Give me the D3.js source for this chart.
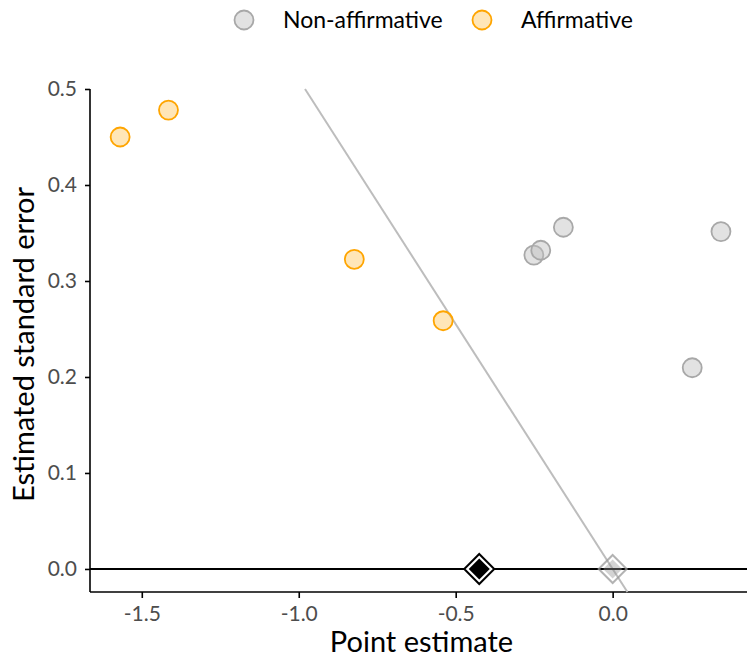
<!DOCTYPE html>
<html lang="en">
<head>
<meta charset="UTF-8">
<title>Point estimate vs standard error</title>
<script src="https://d3js.org/d3.v7.min.js"></script>
<style>
  body { margin: 0; background: #fff; font-family: 'Lato', sans-serif; }
  .tick text { fill: #4d4d4d; font-size: 21px; font-family: 'Lato', sans-serif; }
  .axis path, .axis line { stroke: #000; stroke-width: 1.6; }
</style>
</head>
<body>
<script>
// study estimates and standard errors
const nonAffX = [-0.251, -0.229, -0.157, 0.345, 0.2535];
const nonAffY = [0.327, 0.332, 0.356, 0.3515, 0.2096];
const affX = [-1.569, -1.415, -0.823, -0.540];
const affY = [0.450, 0.478, 0.3226, 0.2586];
// pooled estimates (diamonds)
const pooledAll = -0.425;
const pooledNonAff = 0.0;
const critZ = 1.96;
const xTicks = [-1.5, -1.0, -0.5, 0.0];
const yTicks = [0, 0.1, 0.2, 0.3, 0.4, 0.5];
const legendLabels = ["Non-affirmative", "Affirmative"];

const width = 747, height = 657;
const mLeft = 90, mRight = 747, mTop = 89, mBottom = 592;

const x = d3.scaleLinear().domain([-1.665, 0.428]).range([mLeft, mRight]);
const y = d3.scaleLinear().domain([-0.024, 0.5]).range([mBottom, mTop]);

const svg = d3.select('body').append('svg')
  .attr('width', width).attr('height', height);

const styles = {
  nonAff: { fill: 'rgba(190,190,190,0.45)', stroke: '#a8a8a8' },
  aff: { fill: 'rgba(255,165,0,0.28)', stroke: '#ffa500' }
};
const fmt = d => d.toFixed(1);

// axes
svg.append('g').attr('class', 'axis')
  .attr('transform', `translate(0,${mBottom})`)
  .call(d3.axisBottom(x).tickValues(xTicks).tickSize(6).tickPadding(8).tickFormat(fmt))
  .call(g => g.select('.domain').attr('d', `M${mLeft},0H${mRight}`));

svg.append('g').attr('class', 'axis')
  .attr('transform', `translate(${mLeft},0)`)
  .call(d3.axisLeft(y).tickValues(yTicks).tickSize(5).tickPadding(8).tickFormat(fmt))
  .call(g => g.select('.domain').attr('d', `M0,${mTop}V${mBottom}`));

// significance boundary line: estimate = -1.96 * se
const lineYs = [0.5, -0.024];
svg.append('line')
  .attr('x1', x(-critZ * lineYs[0])).attr('y1', y(lineYs[0]))
  .attr('x2', x(-critZ * lineYs[1])).attr('y2', y(lineYs[1]))
  .attr('stroke', '#bdbdbd').attr('stroke-width', 2);

// zero line
svg.append('line')
  .attr('x1', mLeft).attr('x2', mRight)
  .attr('y1', y(0)).attr('y2', y(0))
  .attr('stroke', '#000').attr('stroke-width', 2);

// points
function drawPoints(xs, ys, st) {
  svg.append('g').selectAll('circle')
    .data(xs.map((d, i) => [d, ys[i]]))
    .join('circle')
    .attr('cx', d => x(d[0])).attr('cy', d => y(d[1]))
    .attr('r', 9.5)
    .attr('fill', st.fill).attr('stroke', st.stroke).attr('stroke-width', 1.8);
}
drawPoints(nonAffX, nonAffY, styles.nonAff);
drawPoints(affX, affY, styles.aff);

// diamonds
function diamond(cx, cy, s) {
  return `M${cx},${cy - s}L${cx + s},${cy}L${cx},${cy + s}L${cx - s},${cy}Z`;
}
const gd = svg.append('g').attr('opacity', 0.75);
gd.append('path').attr('d', diamond(x(pooledNonAff), y(0), 14))
  .attr('fill', 'none').attr('stroke', '#9a9a9a').attr('stroke-width', 2);
gd.append('path').attr('d', diamond(x(pooledNonAff), y(0), 9.5))
  .attr('fill', 'rgba(150,150,150,0.55)').attr('stroke', 'none');

svg.append('path').attr('d', diamond(x(pooledAll), y(0), 15))
  .attr('fill', '#fff').attr('stroke', '#000').attr('stroke-width', 2);
svg.append('path').attr('d', diamond(x(pooledAll), y(0), 10.5))
  .attr('fill', '#000');

// axis titles
svg.append('text')
  .attr('x', (mLeft + mRight) / 2 + 3).attr('y', 652)
  .attr('text-anchor', 'middle').attr('font-size', 29).attr('fill', '#000')
  .text('Point estimate');
svg.append('text')
  .attr('transform', `translate(34,${(mTop + mBottom) / 2 + 4}) rotate(-90)`)
  .attr('text-anchor', 'middle').attr('font-size', 29).attr('fill', '#000')
  .text('Estimated standard error');

// legend
const legendX = [244, 482];
const legendStyles = [styles.nonAff, styles.aff];
legendLabels.forEach((lab, i) => {
  svg.append('circle').attr('cx', legendX[i]).attr('cy', 20).attr('r', 9.5)
    .attr('fill', legendStyles[i].fill).attr('stroke', legendStyles[i].stroke).attr('stroke-width', 1.8);
  svg.append('text').attr('x', legendX[i] + 39).attr('y', 28)
    .attr('font-size', 23).attr('fill', '#000').text(lab);
});
</script>
</body>
</html>
